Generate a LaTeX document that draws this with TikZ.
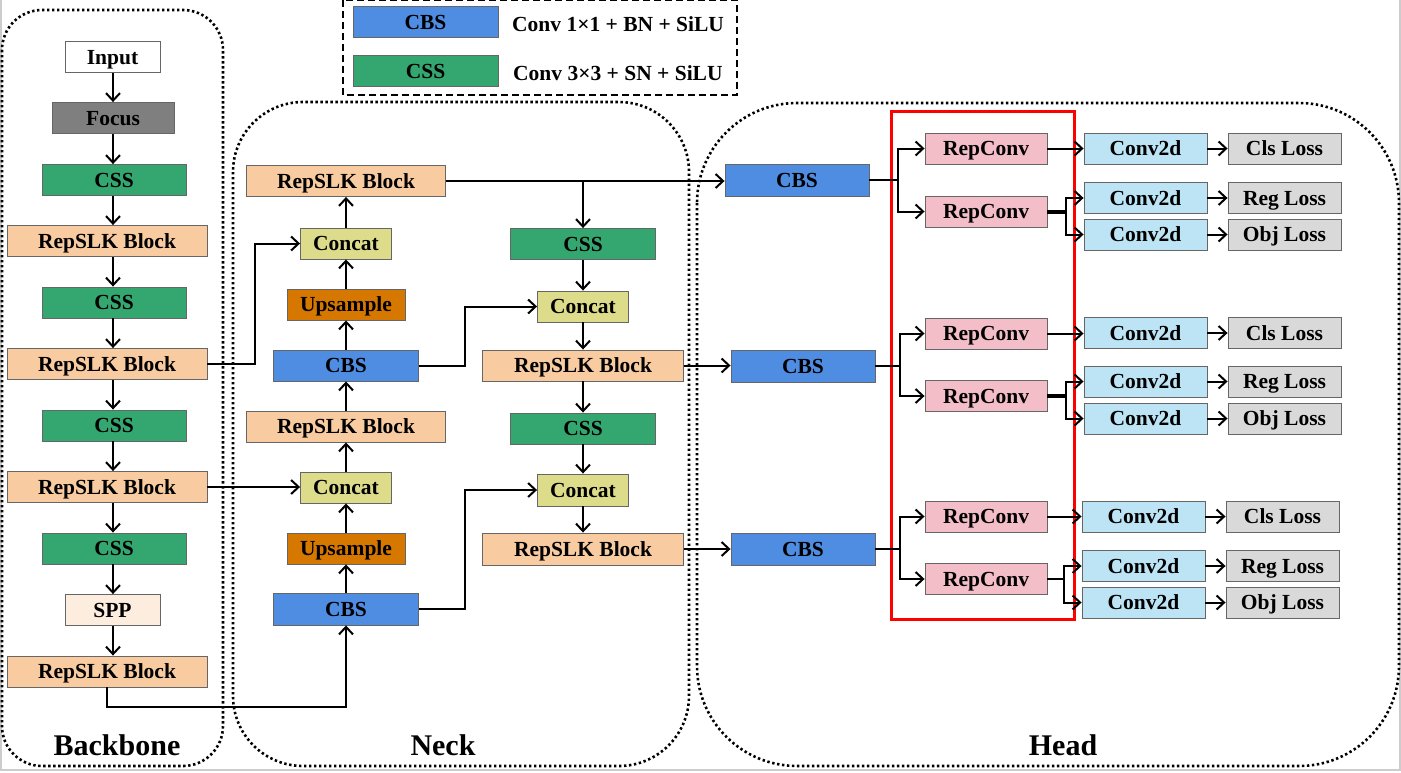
\documentclass[tikz,border=0pt]{standalone}
\usepackage{fontspec}
\setmainfont{Liberation Serif}
\usetikzlibrary{arrows.meta}
\definecolor{cbsblue}{RGB}{79,141,227}
\definecolor{cssgreen}{RGB}{52,166,112}
\definecolor{peach}{RGB}{248,203,160}
\definecolor{focusgray}{RGB}{127,127,127}
\definecolor{sppcol}{RGB}{253,237,222}
\definecolor{concatcol}{RGB}{221,220,138}
\definecolor{upscol}{RGB}{214,120,0}
\definecolor{repconvcol}{RGB}{244,190,200}
\definecolor{convcol}{RGB}{189,228,245}
\definecolor{losscol}{RGB}{217,217,217}
\tikzset{
  box/.style={draw=black!60, line width=0.9pt, inner sep=0pt, minimum height=31pt,
    text height=14.5pt, text depth=0pt,
    font=\bfseries\fontsize{21.5}{24}\selectfont},
  cbs/.style={box, fill=cbsblue, minimum width=145pt},
  css/.style={box, fill=cssgreen, minimum width=145pt},
  rep/.style={box, fill=peach, minimum width=200pt},
  inp/.style={box, fill=white, minimum width=95pt},
  foc/.style={box, fill=focusgray, minimum width=122pt},
  spp/.style={box, fill=sppcol, minimum width=95pt},
  cat/.style={box, fill=concatcol, minimum width=91pt},
  ups/.style={box, fill=upscol, minimum width=118pt},
  rcv/.style={box, fill=repconvcol, minimum width=122pt},
  cvd/.style={box, fill=convcol, minimum width=123pt},
  los/.style={box, fill=losscol, minimum width=113pt},
  ln/.style={line width=2pt, black},
  thk/.style={line width=4pt, black},
  arr/.style={ln, -{Straight Barb[length=7.5pt,width=14pt,line width=2pt]}},
  cont/.style={line width=2.6pt, dash pattern=on 2.4pt off 2.6pt},
  ttl/.style={font=\bfseries\fontsize{30}{34}\selectfont},
  lgd/.style={font=\bfseries\fontsize{21.5}{24}\selectfont, anchor=west, inner sep=0pt,
    text height=14.5pt, text depth=0pt},
}
\begin{document}
\begin{tikzpicture}[x=1pt,y=-1pt]
\useasboundingbox (0,0) rectangle (1401,772);
\fill[white] (0,0) rectangle (1401,772);
% faint frame
\draw[black!20, line width=2pt] (0.5,0) -- (0.5,770) -- (1400,770) -- (1400,0);

% containers
\draw[cont, rounded corners=40pt] (2,10) rectangle (223,766);
\draw[cont, rounded corners=70pt] (233,102) rectangle (689,766);
\draw[cont, rounded corners=100pt] (697,103) rectangle (1399,766);
\draw[line width=2.4pt, dash pattern=on 7pt off 4pt] (343,0) rectangle (737,95);
\draw[red, line width=3pt] (891,111) rectangle (1074,619);

\node[ttl] (tbb) at (117,745) {Backbone};
\node[ttl] (tnk) at (443,745) {Neck};
\node[ttl] (thd) at (1063,745) {Head};

% legend
\node[cbs] (lcbs) at (425.5,22) {CBS};
\node[css] (lcss) at (425.5,71) {CSS};
\node[lgd] (lt1) at (512,24) {Conv 1×1 + BN + SiLU};
\node[lgd] (lt2) at (513,73) {Conv 3×3 + SN + SiLU};

% backbone
\coordinate (ax) at (113,0);
\node[inp] (bin) at (112.5,57) {Input};
\node[foc] (bfo) at (113,118) {Focus};
\node[css, minimum width=144pt] (bc1) at (114,180) {CSS};
\node[rep] (br1) at (107,241) {RepSLK Block};
\node[css, minimum width=144pt] (bc2) at (114,302.5) {CSS};
\node[rep] (br2) at (107,364) {RepSLK Block};
\node[css, minimum width=144pt] (bc3) at (114,425.5) {CSS};
\node[rep] (br3) at (107,487) {RepSLK Block};
\node[css, minimum width=144pt] (bc4) at (114,548.5) {CSS};
\node[spp] (bsp) at (112.5,610) {SPP};
\node[rep] (br4) at (107,671.5) {RepSLK Block};

\draw[arr] (bin.south -| ax) -- (bfo.north -| ax);
\draw[arr] (bfo.south -| ax) -- (bc1.north -| ax);
\draw[arr] (bc1.south -| ax) -- (br1.north -| ax);
\draw[arr] (br1.south -| ax) -- (bc2.north -| ax);
\draw[arr] (bc2.south -| ax) -- (br2.north -| ax);
\draw[arr] (br2.south -| ax) -- (bc3.north -| ax);
\draw[arr] (bc3.south -| ax) -- (br3.north -| ax);
\draw[arr] (br3.south -| ax) -- (bc4.north -| ax);
\draw[arr] (bc4.south -| ax) -- (bsp.north -| ax);
\draw[arr] (bsp.south -| ax) -- (br4.north -| ax);

% neck left column
\node[rep, minimum width=199pt] (nr1) at (346,181) {RepSLK Block};
\node[cat] (na1) at (346,243.5) {Concat};
\node[ups] (nu1) at (346,304.5) {Upsample};
\node[cbs] (nb1) at (346,365.5) {CBS};
\node[rep, minimum width=199pt] (nr2) at (346,426.5) {RepSLK Block};
\node[cat] (na2) at (346,487.5) {Concat};
\node[ups] (nu2) at (346,548.5) {Upsample};
\node[cbs, minimum height=32pt] (nb2) at (346,609) {CBS};

% neck right column
\node[css] (nc1) at (583,244) {CSS};
\node[cat] (na3) at (583,306.5) {Concat};
\node[rep, minimum width=201pt] (nr3) at (583,365.5) {RepSLK Block};
\node[css] (nc2) at (583,428.5) {CSS};
\node[cat, minimum height=32pt] (na4) at (583,490) {Concat};
\node[rep, minimum width=201pt, minimum height=32pt] (nr4) at (583,549) {RepSLK Block};

% neck arrows (upward)
\draw[arr] (nb2) -- (nu2);
\draw[arr] (nu2) -- (na2);
\draw[arr] (na2) -- (nr2);
\draw[arr] (nr2) -- (nb1);
\draw[arr] (nb1) -- (nu1);
\draw[arr] (nu1) -- (na1);
\draw[arr] (na1) -- (nr1);
% neck arrows (downward)
\draw[arr] (nc1) -- (na3);
\draw[arr] (na3) -- (nr3);
\draw[arr] (nr3) -- (nc2);
\draw[arr] (nc2) -- (na4);
\draw[arr] (na4) -- (nr4);

% backbone to neck
\draw[arr] (br2.east) -- ++(48,0) |- (na1.west);
\draw[arr] (br3.east) -- (na2.west |- br3.east);
\draw[arr] (br4.south) -- ++(0,20) -| (nb2.south);
\draw[arr] (nb2.east) -- ++(46,0) |- (na4.west);
\draw[arr] (nb1.east) -- ++(46,0) |- (na3.west);

% head CBS
\node[cbs, minimum width=144pt, minimum height=32pt] (hb1) at (797,180) {CBS};
\node[cbs, minimum width=144pt, minimum height=32pt] (hb2) at (803,366) {CBS};
\node[cbs, minimum width=144pt, minimum height=32pt] (hb3) at (803,549) {CBS};

\draw[arr] (nr1.east) -- (hb1.west |- nr1.east);
\draw[arr] (nc1.north |- nr1.east) -- (nc1.north);
\draw[arr] (nr3.east) -- (hb2.west |- nr3.east);
\draw[arr] (nr4.east) -- (hb3.west |- nr4.east);

% head group 1
\node[rcv] (ra1) at (986,148.5) {RepConv};
\node[rcv] (rb1) at (986,211.5) {RepConv};
\node[cvd] (cc1) at (1145.5,148.5) {Conv2d};
\node[cvd] (cr1) at (1145.5,198) {Conv2d};
\node[cvd] (co1) at (1145.5,234.5) {Conv2d};
\node[los] (lc1) at (1284.5,148.5) {Cls Loss};
\node[los] (lr1) at (1284.5,198) {Reg Loss};
\node[los] (lo1) at (1284.5,234.5) {Obj Loss};
\coordinate (j1) at (898,180);
\coordinate (k1) at (1066,211.5);
\draw[ln] (hb1.east) -- (j1);
\draw[arr] (j1) |- (ra1.west);
\draw[arr] (j1) |- (rb1.west);
\draw[arr] (ra1) -- (cc1);
\draw[thk] (rb1.east) -- (k1);
\draw[arr] (k1) |- (cr1.west);
\draw[arr] (k1) |- (co1.west);
\draw[arr] (cc1) -- (lc1);
\draw[arr] (cr1) -- (lr1);
\draw[arr] (co1) -- (lo1);

% head group 2
\node[rcv] (ra2) at (986,333.5) {RepConv};
\node[rcv] (rb2) at (986,396) {RepConv};
\node[cvd] (cc2) at (1145.5,333) {Conv2d};
\node[cvd] (cr2) at (1145.5,381.5) {Conv2d};
\node[cvd] (co2) at (1145.5,418.5) {Conv2d};
\node[los] (lc2) at (1284.5,333) {Cls Loss};
\node[los] (lr2) at (1284.5,381.5) {Reg Loss};
\node[los] (lo2) at (1284.5,418.5) {Obj Loss};
\coordinate (j2) at (900,366);
\coordinate (k2) at (1066,396);
\draw[ln] (hb2.east) -- (j2);
\draw[arr] (j2) |- (ra2.west);
\draw[arr] (j2) |- (rb2.west);
\draw[arr] (ra2.east) -- (cc2.west |- ra2.east);
\draw[thk] (rb2.east) -- (k2);
\draw[arr] (k2) |- (cr2.west);
\draw[arr] (k2) |- (co2.west);
\draw[arr] (cc2) -- (lc2);
\draw[arr] (cr2) -- (lr2);
\draw[arr] (co2) -- (lo2);

% head group 3
\node[rcv] (ra3) at (986,516.5) {RepConv};
\node[rcv] (rb3) at (986,579) {RepConv};
\node[cvd] (cc3) at (1143.5,516.5) {Conv2d};
\node[cvd] (cr3) at (1143.5,566) {Conv2d};
\node[cvd] (co3) at (1143.5,602.5) {Conv2d};
\node[los] (lc3) at (1282.5,516.5) {Cls Loss};
\node[los] (lr3) at (1282.5,566) {Reg Loss};
\node[los] (lo3) at (1282.5,602.5) {Obj Loss};
\coordinate (j3) at (900,549);
\coordinate (k3) at (1064,579);
\draw[ln] (hb3.east) -- (j3);
\draw[arr] (j3) |- (ra3.west);
\draw[arr] (j3) |- (rb3.west);
\draw[arr] (ra3) -- (cc3);
\draw[ln] (rb3.east) -- (k3);
\draw[arr] (k3) |- (cr3.west);
\draw[arr] (k3) |- (co3.west);
\draw[arr] (cc3) -- (lc3);
\draw[arr] (cr3) -- (lr3);
\draw[arr] (co3) -- (lo3);
\end{tikzpicture}
\end{document}
